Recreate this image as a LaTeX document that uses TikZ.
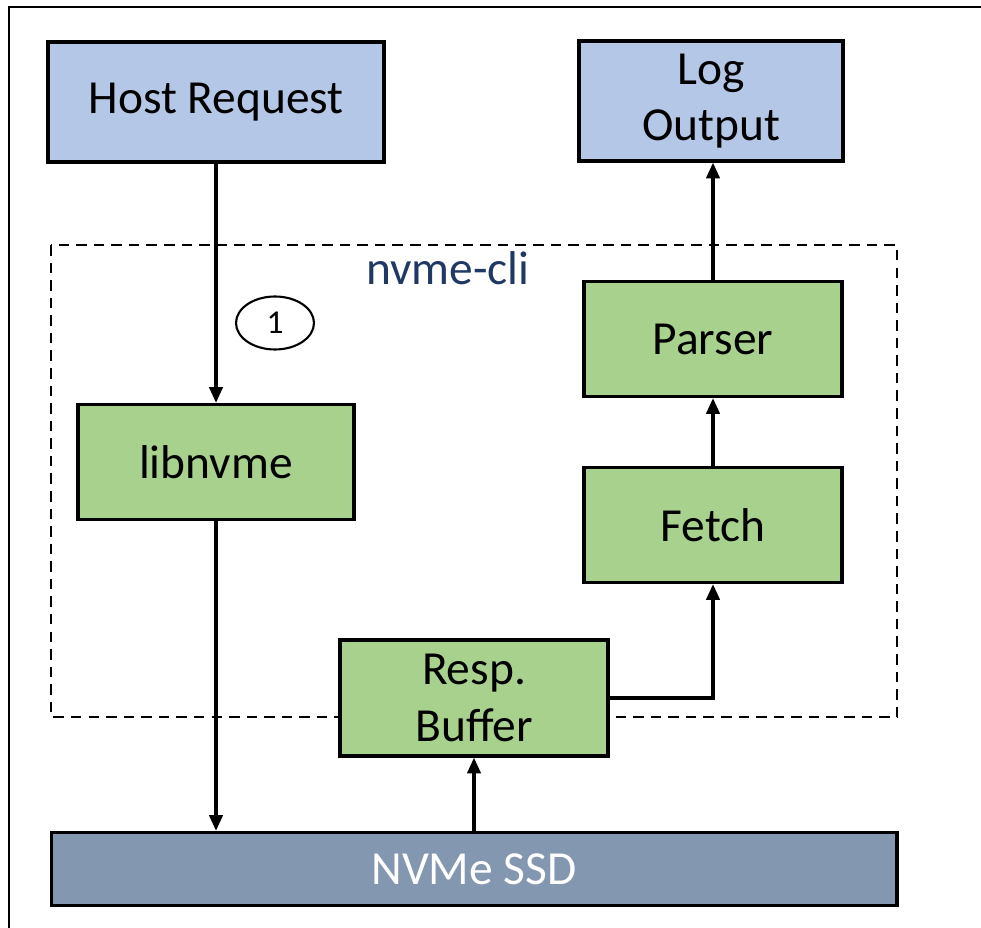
\documentclass[tikz,border=0pt]{standalone}
\usepackage{fontspec}
\setmainfont{Carlito}
\usetikzlibrary{arrows.meta,shapes.geometric}
\definecolor{hostblue}{HTML}{B4C7E7}
\definecolor{stagegreen}{HTML}{A9D18E}
\definecolor{ssdgray}{HTML}{8497B0}
\definecolor{clinavy}{HTML}{203864}
\tikzset{
  block/.style={draw,line width=1.8pt,align=center,font=\fontsize{27}{32}\selectfont,inner sep=2pt},
  hostbox/.style={block,fill=hostblue},
  stagebox/.style={block,fill=stagegreen},
  arr/.style={line width=2pt,-{Triangle[length=9pt,width=7.5pt]}},
}
\begin{document}
\begin{tikzpicture}[x=0.02cm,y=-0.02cm]
  \useasboundingbox (0,0) rectangle (981,928);
  \draw[line width=1.4pt] (981,7) -- (9,7) -- (9,928);
  \draw[dashed,line width=1.2pt,dash pattern=on 6pt off 4pt] (51,245) rectangle (897,717);
  \node[text=clinavy,font=\fontsize{27}{30}\selectfont] (cli) at (448,268) {nvme-cli};
  \node[hostbox,minimum width=6.72cm,minimum height=2.4cm] (host) at (216,102) {Host Request};
  \node[hostbox,minimum width=5.28cm,minimum height=2.4cm] (log) at (711,101) {Log\\Output};
  \node[stagebox,minimum width=5.52cm,minimum height=2.3cm] (lib) at (216,462) {libnvme};
  \node[stagebox,minimum width=5.16cm,minimum height=2.3cm] (parser) at (713,339) {Parser};
  \node[stagebox,minimum width=5.16cm,minimum height=2.3cm] (fetch) at (713,525) {Fetch};
  \node[stagebox,minimum width=5.36cm,minimum height=2.32cm] (buf) at (474,698) {Resp.\\Buffer};
  \node[block,fill=ssdgray,text=white,minimum width=16.92cm,minimum height=1.46cm] (ssd) at (474,869) {NVMe SSD};
  \node[draw,ellipse,line width=1.2pt,minimum width=1.56cm,minimum height=1.06cm,inner sep=0pt,font=\fontsize{19}{21}\selectfont] (step1) at (275,323) {1};
  \draw[arr] (host.south) -- (lib.north);
  \draw[arr] (lib.south) -- (lib.south |- ssd.north);
  \draw[arr] (ssd.north) -- (buf.south);
  \draw[arr] (buf.east) -| (fetch.south);
  \draw[arr] (fetch.north) -- (parser.south);
  \draw[arr] (parser.north) -- (parser.north |- log.south);
\end{tikzpicture}
\end{document}
